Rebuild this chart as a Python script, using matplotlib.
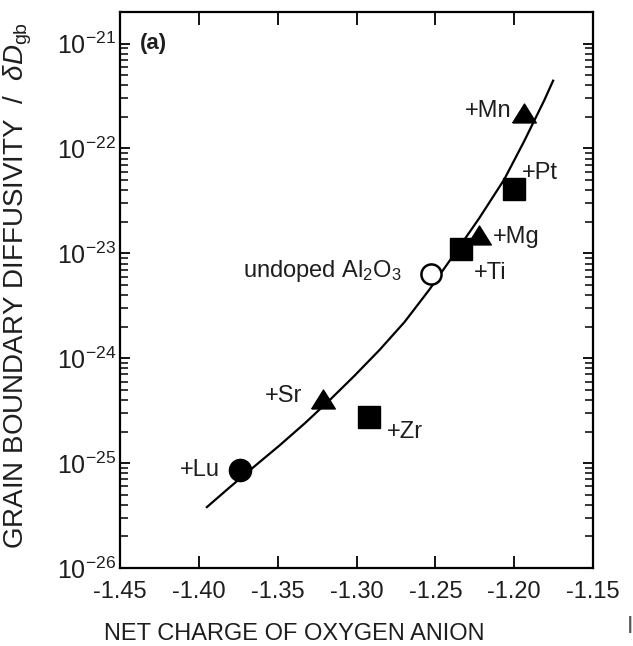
import numpy as np
import matplotlib
matplotlib.use('Agg')
import matplotlib.pyplot as plt
from matplotlib.ticker import LogLocator, NullFormatter, FixedLocator, FuncFormatter

plt.rcParams['font.family'] = ['Liberation Sans', 'DejaVu Sans']
plt.rcParams['mathtext.fontset'] = 'custom'
plt.rcParams['mathtext.rm'] = 'Liberation Sans'
plt.rcParams['mathtext.it'] = 'Liberation Sans:italic'
plt.rcParams['mathtext.bf'] = 'Liberation Sans:bold'

# dados
dopantes = ['+Lu', '+Sr', '+Zr', 'undoped', '+Ti', '+Mg', '+Pt', '+Mn']
carga = [-1.374, -1.3215, -1.292, -1.253, -1.234, -1.2225, -1.200, -1.1935]
difusividade = [8.6e-26, 4.1e-25, 2.75e-25, 6.4e-24, 1.1e-23, 1.5e-23, 4.1e-23, 2.2e-22]

# curva de ajuste (pontos lidos ao longo da linha)
curva_carga = [-1.3949, -1.3804, -1.3646, -1.3487, -1.3329, -1.3171, -1.3013, -1.2854,
               -1.2696, -1.2538, -1.2380, -1.2222, -1.2063, -1.1937, -1.1810, -1.1753]
curva_dif = [3.81e-26, 5.89e-26, 9.35e-26, 1.48e-25, 2.39e-25, 3.98e-25, 6.81e-25,
             1.20e-24, 2.21e-24, 4.51e-24, 9.82e-24, 2.16e-23, 5.07e-23, 1.17e-22,
             2.86e-22, 4.43e-22]

xticks = [-1.45, -1.40, -1.35, -1.30, -1.25, -1.20, -1.15]
yticks = [1e-26, 1e-25, 1e-24, 1e-23, 1e-22, 1e-21]

# estilo de cada ponto
tri = [(-1, -0.8), (1, -0.8), (0, 0.8), (-1, -0.8)]
estilo = {
    '+Lu': dict(marker='o', ms=16, mfc='black'),
    '+Sr': dict(marker=tri, ms=17, mfc='black'),
    '+Zr': dict(marker='s', ms=15.5, mfc='black'),
    'undoped': dict(marker='o', ms=14.5, mfc='white', mew=1.8),
    '+Ti': dict(marker='s', ms=15.5, mfc='black'),
    '+Mg': dict(marker=tri, ms=17, mfc='black'),
    '+Pt': dict(marker='s', ms=15.5, mfc='black'),
    '+Mn': dict(marker=tri, ms=17, mfc='black'),
}

fig = plt.figure(figsize=(6.33, 6.46), dpi=100)
ax = fig.add_axes([0.1896, 0.1207, 0.7472, 0.8607])

ax.plot(curva_carga, curva_dif, '-', color='black', lw=1.6, zorder=2,
        solid_joinstyle='round')

for nome, x, y in zip(dopantes, carga, difusividade):
    ax.plot(x, y, linestyle='none', mec='black', zorder=3, **estilo[nome])

# rotulos dos pontos
cor_txt = '#1e1e1e'
fs = 17
ax.text(-1.3867, 10**-25.067, '+Lu', ha='right', va='center', fontsize=fs, color=cor_txt)
ax.text(-1.3342, 10**-24.362, '+Sr', ha='right', va='center', fontsize=fs, color=cor_txt)
ax.text(-1.281, 10**-24.70, '+Zr', ha='left', va='center', fontsize=fs, color=cor_txt)
ax.text(-1.2715, 10**-23.17, r'undoped Al$_2$O$_3$', ha='right', va='center', fontsize=fs, color=cor_txt)
ax.text(-1.2253, 10**-23.19, '+Ti', ha='left', va='center', fontsize=fs, color=cor_txt)
ax.text(-1.2134, 10**-22.848, '+Mg', ha='left', va='center', fontsize=fs, color=cor_txt)
ax.text(-1.1949, 10**-22.23, '+Pt', ha='left', va='center', fontsize=fs, color=cor_txt)
ax.text(-1.2019, 10**-21.638, '+Mn', ha='right', va='center', fontsize=fs, color=cor_txt)
ax.text(-1.4373, 1e-21, '(a)', ha='left', va='center', fontsize=16, fontweight='bold', color=cor_txt)

# eixos
ax.set_yscale('log')
ax.set_xlim(-1.45, -1.15)
ax.set_ylim(1e-26, 2e-21)
ax.xaxis.set_major_locator(FixedLocator(xticks))
ax.xaxis.set_major_formatter(FuncFormatter(lambda v, p: f'{v:.2f}'))
ax.yaxis.set_major_locator(FixedLocator(yticks))
ax.yaxis.set_minor_locator(LogLocator(base=10, subs=np.arange(2, 10), numticks=20))
ax.yaxis.set_minor_formatter(NullFormatter())
ax.yaxis.set_major_formatter(FuncFormatter(
    lambda v, p: r'$\mathregular{10^{%d}}$' % int(round(np.log10(v)))))

ax.tick_params(which='both', direction='in', top=True, right=True, colors='black',
               labelcolor=cor_txt)
ax.tick_params(axis='x', which='major', length=9, width=1.3, labelsize=17, pad=9)
ax.tick_params(axis='y', which='major', length=7, width=1.3, labelsize=18, pad=3)
ax.tick_params(axis='y', which='minor', length=6, width=1.1)
for s in ax.spines.values():
    s.set_linewidth(1.6)

ax.set_xlabel('NET CHARGE OF OXYGEN ANION', fontsize=17, color=cor_txt)
ax.xaxis.set_label_coords(0.368, -0.098)
ax.set_ylabel(r'GRAIN BOUNDARY DIFFUSIVITY  /  $\delta D_{\mathrm{gb}}$', fontsize=20,
              color=cor_txt)
ax.yaxis.set_label_coords(-0.182, 0.509)

fig.text(0.991, 0.012, 'I', fontsize=17, color='#555555', ha='left', va='bottom')

fig.savefig('out.png', dpi=100)
